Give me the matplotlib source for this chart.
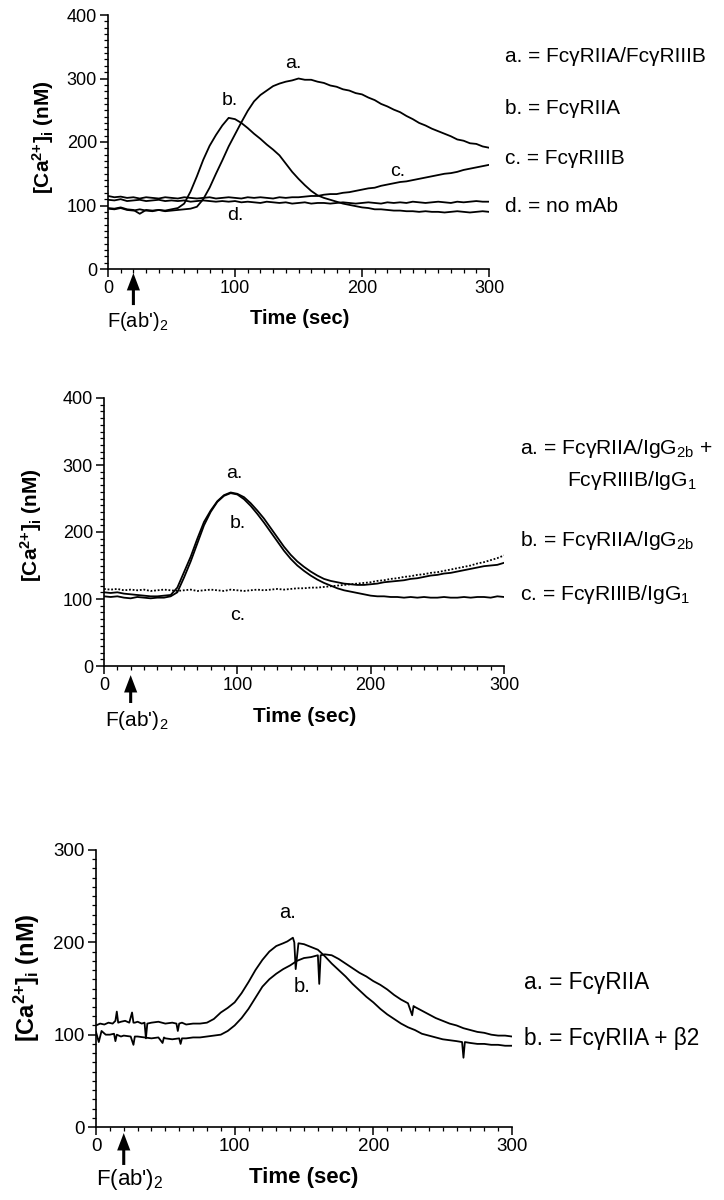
import matplotlib
matplotlib.use("Agg")
import matplotlib.pyplot as plt
from matplotlib.ticker import MultipleLocator

plt.rcParams['font.family'] = ['Liberation Sans', 'DejaVu Sans']
plt.rcParams['mathtext.default'] = 'regular'

# ---------------- data ----------------
time_5s = list(range(0, 301, 5))

# Panel 1
p1_a = [95, 94, 96, 93, 92, 94, 92, 91, 93, 91,
        92, 93, 94, 95, 98, 110, 128, 150, 171, 193,
        212, 231, 249, 264, 274, 281, 288, 292, 295, 297,
        300, 298, 298, 295, 293, 289, 287, 283, 281, 277,
        275, 270, 266, 260, 256, 251, 247, 241, 236, 230,
        226, 221, 217, 213, 209, 204, 202, 198, 197, 193,
        191]
p1_b = [96, 95, 97, 94, 93, 87, 93, 92, 93, 92,
        94, 96, 103, 122, 146, 172, 194, 211, 226, 238,
        236, 230, 222, 213, 205, 196, 188, 179, 166, 153,
        142, 132, 123, 116, 112, 109, 106, 103, 101, 99,
        97, 96, 94, 94, 93, 92, 92, 91, 91, 90,
        91, 90, 90, 89, 90, 91, 90, 89, 90, 91,
        90]
p1_c = [115, 113, 114, 112, 113, 111, 113, 112, 111, 113,
        112, 111, 113, 112, 111, 112, 113, 111, 112, 113,
        112, 111, 113, 112, 113, 112, 111, 113, 112, 113,
        113, 114, 115, 115, 117, 118, 118, 120, 121, 123,
        125, 127, 128, 131, 133, 135, 137, 138, 140, 142,
        144, 146, 148, 150, 151, 153, 156, 158, 160, 162,
        164]
p1_d = [109, 108, 110, 107, 108, 109, 107, 108, 109, 107,
        108, 107, 108, 106, 107, 108, 107, 106, 107, 106,
        107, 105, 106, 105, 104, 106, 105, 104, 105, 103,
        104, 105, 103, 104, 104, 103, 104, 105, 104, 103,
        104, 105, 104, 103, 105, 104, 105, 104, 106, 105,
        104, 105, 106, 105, 104, 106, 105, 106, 107, 106,
        106]

# Panel 2
p2_a = [110, 109, 110, 108, 107, 106, 105, 104, 104, 105,
        106, 117, 140, 163, 190, 215, 232, 246, 255, 259,
        257, 252, 243, 232, 220, 206, 192, 178, 166, 156,
        148, 141, 135, 130, 127, 125, 123, 122, 121, 121,
        122, 123, 125, 126, 127, 128, 130, 131, 133, 135,
        136, 138, 139, 141, 143, 145, 147, 149, 150, 151,
        154]
p2_b = [104, 103, 104, 102, 101, 103, 102, 101, 102, 102,
        104, 110, 132, 156, 183, 210, 230, 245, 254, 258,
        256, 249, 239, 227, 214, 200, 186, 172, 160, 150,
        142, 135, 129, 124, 120, 116, 113, 111, 109, 107,
        105, 104, 104, 103, 103, 102, 103, 102, 103, 102,
        102, 103, 102, 102, 103, 102, 103, 103, 102, 104,
        103]
p2_c = [115, 114, 115, 113, 114, 113, 114, 112, 113, 114,
        113, 112, 113, 114, 112, 113, 114, 113, 112, 114,
        113, 112, 113, 114, 113, 114, 115, 114, 115, 116,
        116, 117, 117, 118, 119, 120, 121, 122, 123, 124,
        125, 127, 128, 130, 131, 133, 134, 136, 137, 139,
        140, 142, 144, 146, 148, 150, 153, 155, 158, 161,
        165]

# Panel 3
p3_a_t = [0, 3, 6, 9, 12, 14, 15, 16, 18, 21,
          24, 26, 27, 28, 30, 33, 35, 36, 37, 40,
          45, 50, 55, 58, 59, 60, 62, 65, 70, 75,
          80, 85, 90, 95, 100, 105, 110, 115, 120, 125,
          130, 135, 138, 140, 142, 143, 144, 146, 150, 155,
          160, 165, 170, 175, 180, 185, 190, 195, 200, 205,
          210, 215, 220, 225, 230, 235, 240, 245, 250, 255,
          260, 264, 265, 266, 270, 275, 280, 285, 290, 295,
          300]
p3_a = [110, 112, 111, 113, 112, 115, 125, 113, 114, 115,
        113, 124, 113, 113, 114, 112, 113, 96, 112, 113,
        114, 112, 113, 112, 104, 112, 113, 111, 112, 112,
        113, 117, 124, 129, 135, 145, 157, 170, 181, 190,
        196, 199, 201, 203, 205, 200, 171, 199, 198, 195,
        192, 185, 177, 170, 163, 155, 148, 141, 135, 128,
        122, 117, 112, 108, 105, 101, 99, 97, 95, 94,
        93, 92, 75, 92, 91, 90, 90, 89, 89, 88,
        88]
p3_b_t = [0, 2, 4, 7, 10, 13, 14, 15, 18, 20,
          25, 27, 28, 30, 35, 40, 45, 48, 49, 50,
          55, 60, 61, 62, 65, 70, 75, 80, 85, 90,
          95, 100, 105, 110, 115, 120, 125, 130, 135, 140,
          145, 150, 155, 160, 161, 162, 165, 170, 175, 180,
          185, 190, 195, 200, 205, 210, 215, 220, 225, 228,
          229, 230, 235, 240, 245, 250, 255, 260, 265, 270,
          275, 280, 285, 290, 295, 300]
p3_b = [103, 92, 104, 100, 100, 101, 93, 100, 98, 99,
        98, 89, 98, 98, 97, 96, 97, 91, 97, 96,
        95, 96, 90, 96, 96, 97, 97, 98, 99, 100,
        104, 110, 118, 128, 140, 152, 160, 166, 171, 175,
        180, 183, 184, 186, 155, 186, 187, 186, 182, 177,
        172, 167, 163, 158, 154, 149, 143, 138, 134, 121,
        131, 130, 126, 122, 118, 115, 112, 110, 107, 105,
        103, 102, 100, 99, 99, 98]

p1_legend = ["a. = Fc\u03b3RIIA/Fc\u03b3RIIIB", "b. = Fc\u03b3RIIA",
             "c. = Fc\u03b3RIIIB", "d. = no mAb"]
p2_legend = ["a. = Fc\u03b3RIIA/IgG$_{2b}$ +", "Fc\u03b3RIIIB/IgG$_1$",
             "b. = Fc\u03b3RIIA/IgG$_{2b}$", "c. = Fc\u03b3RIIIB/IgG$_1$"]
p3_legend = ["a. = Fc\u03b3RIIA", "b. = Fc\u03b3RIIA + \u03b22"]

# ---------------- figure ----------------
W, H = 724, 1200
fig = plt.figure(figsize=(W / 100, H / 100), dpi=100)


def fx(px):
    return px / W


def fy(py):
    return 1 - py / H


def make_axes(left, right, top, bottom, ymax, tick_fs):
    ax = fig.add_axes([fx(left), fy(bottom), fx(right) - fx(left), fy(top) - fy(bottom)])
    ax.set_xlim(0, 300)
    ax.set_ylim(0, ymax)
    for s in ('top', 'right'):
        ax.spines[s].set_visible(False)
    for s in ('left', 'bottom'):
        ax.spines[s].set_linewidth(1.2)
    ax.xaxis.set_major_locator(MultipleLocator(100))
    ax.xaxis.set_minor_locator(MultipleLocator(10))
    ax.yaxis.set_major_locator(MultipleLocator(100))
    ax.yaxis.set_minor_locator(MultipleLocator(10))
    ax.tick_params(which='major', direction='out', length=6, width=1.1, labelsize=tick_fs, pad=2)
    ax.tick_params(which='minor', direction='out', length=3.2, width=0.9)
    ax.patch.set_visible(False)
    return ax


def decorate(ax, ylab_x, ylab_y, ylab_fs, arrow_tip, arrow_base, fab_xy, time_xy, lab_fs):
    ax.text(ylab_x, ylab_y, '[Ca$^{2{+}}$]$_i$ (nM)', transform=ax.transAxes,
            rotation=90, ha='center', va='center', fontsize=ylab_fs, fontweight='bold')
    ax.annotate('', xy=(20, arrow_tip), xycoords=ax.get_xaxis_transform(),
                xytext=(20, arrow_base), textcoords=ax.get_xaxis_transform(),
                arrowprops=dict(facecolor='black', edgecolor='black', lw=0,
                                width=2.2, headwidth=9.5, headlength=12.5, shrink=0),
                annotation_clip=False)
    fig.text(fx(fab_xy[0]), fy(fab_xy[1]), "F(ab')$_2$", ha='center', va='center', fontsize=lab_fs)
    fig.text(fx(time_xy[0]), fy(time_xy[1]), "Time (sec)", ha='center', va='center',
             fontsize=lab_fs, fontweight='bold')


LW = 1.3

# Panel 1
ax1 = make_axes(108, 489, 15, 269, 400, 13)
ax1.plot(time_5s, p1_a, color='black', lw=LW)
ax1.plot(time_5s, p1_b, color='black', lw=LW)
ax1.plot(time_5s, p1_c, color='black', lw=LW)
ax1.plot(time_5s, p1_d, color='black', lw=LW)
for s, (x, y) in zip(['a.', 'b.', 'c.', 'd.'], [(146, 324), (96, 266), (228, 153), (100, 85)]):
    ax1.text(x, y, s, ha='center', va='center', fontsize=14)
decorate(ax1, -0.17, 0.52, 15, -0.016, -0.142, (138, 321), (300, 319), 14.5)
for s, py in zip(p1_legend, [57, 108, 158, 207]):
    fig.text(fx(505), fy(py), s, ha='left', va='center', fontsize=15)

# Panel 2
ax2 = make_axes(104, 504, 398, 666, 400, 13)
ax2.plot(time_5s, p2_a, color='black', lw=LW)
ax2.plot(time_5s, p2_b, color='black', lw=LW)
ax2.plot(time_5s, p2_c, color='black', lw=LW, linestyle=(0, (1.0, 1.0)))
for s, (x, y) in zip(['a.', 'b.', 'c.'], [(98, 288), (100, 213), (100, 76)]):
    ax2.text(x, y, s, ha='center', va='center', fontsize=14)
decorate(ax2, -0.183, 0.526, 15, -0.034, -0.138, (137, 720), (305, 717), 15)
for s, (px, py) in zip(p2_legend, [(520, 448), (567, 480), (520, 541), (520, 595)]):
    fig.text(fx(px), fy(py), s, ha='left', va='center', fontsize=15.2)

# Panel 3
ax3 = make_axes(96, 512, 850, 1127, 300, 13.5)
ax3.plot(p3_a_t, p3_a, color='black', lw=LW)
ax3.plot(p3_b_t, p3_b, color='black', lw=LW)
for s, (x, y) in zip(['a.', 'b.'], [(138, 232), (149, 152)]):
    ax3.text(x, y, s, ha='center', va='center', fontsize=14.5)
decorate(ax3, -0.166, 0.54, 17, -0.022, -0.137, (130, 1180), (304, 1178), 16)
for s, py in zip(p3_legend, [983, 1038]):
    fig.text(fx(524), fy(py), s, ha='left', va='center', fontsize=16.3)

fig.savefig('out.png', dpi=100)
